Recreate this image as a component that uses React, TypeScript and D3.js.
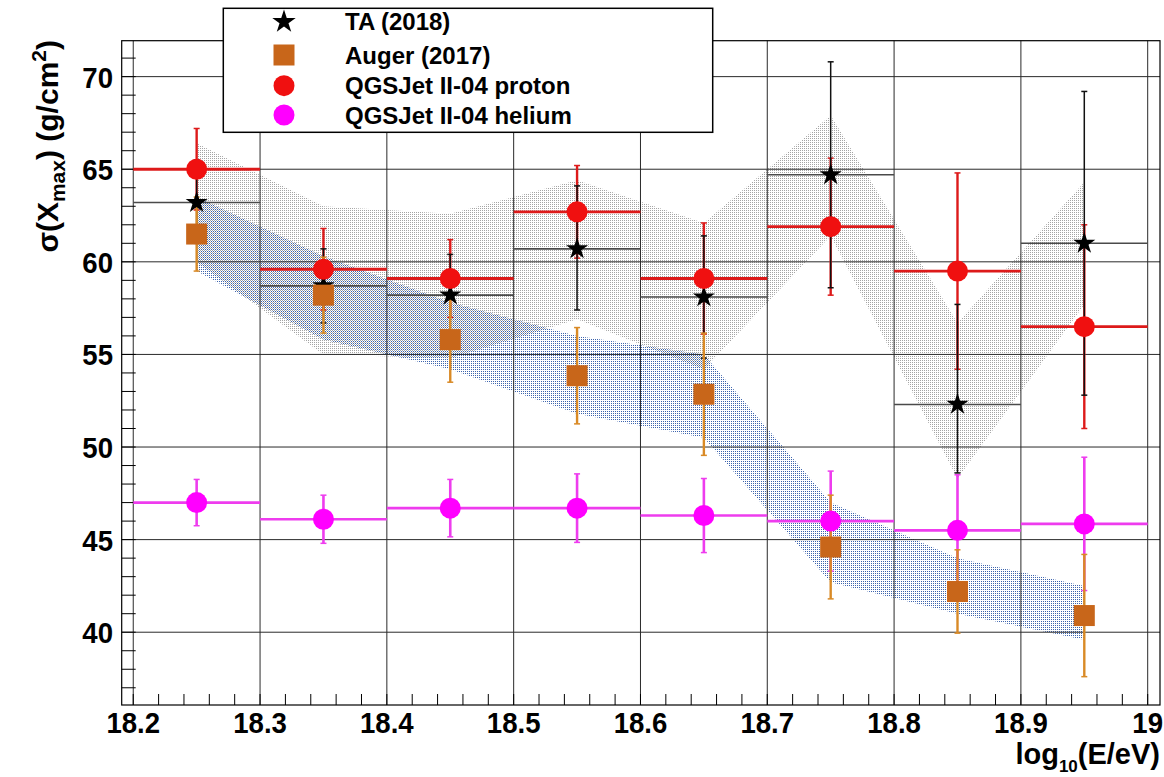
import React from 'react';
import * as d3 from 'd3';

// ---------- data ----------
const binEdges = [18.2, 18.3, 18.4, 18.5, 18.6, 18.7, 18.8, 18.9, 19.0];
const binCenters = [18.25, 18.35, 18.45, 18.55, 18.65, 18.75, 18.85, 18.95];

const taValues = [63.2, 58.7, 58.2, 60.7, 58.1, 64.7, 52.3, 61.0];
const taErrUp = [2.3, 2.0, 2.2, 3.4, 3.3, 6.1, 5.4, 8.2];
const taErrDown = [2.2, 2.0, 2.2, 3.3, 3.3, 6.1, 3.7, 8.2];
const taSysUpper = [66.4, 63.0, 62.6, 64.4, 62.1, 67.9, 56.7, 64.3];
const taSysLower = [60.0, 55.0, 54.8, 56.9, 54.2, 61.4, 48.3, 57.7];

const augerValues = [61.5, 58.2, 55.8, 53.85, 52.85, 44.6, 42.2, 40.9];
const augerErr = [2.0, 2.05, 2.3, 2.6, 3.3, 2.8, 2.25, 3.3];
const augerSysUpper = [63.5, 60.3, 57.8, 56.0, 55.0, 47.0, 44.0, 42.5];
const augerSysLower = [59.5, 55.8, 54.2, 51.8, 50.5, 42.7, 41.0, 39.6];

const protonValues = [65.0, 59.6, 59.1, 62.7, 59.1, 61.9, 59.5, 56.5];
const protonErr = [2.2, 2.2, 2.1, 2.5, 3.0, 3.7, 5.3, 5.5];

const heliumValues = [47.0, 46.1, 46.7, 46.7, 46.3, 46.0, 45.5, 45.85];
const heliumErr = [1.25, 1.3, 1.55, 1.85, 2.0, 2.7, 3.0, 3.6];

const xTickValues = [18.2, 18.3, 18.4, 18.5, 18.6, 18.7, 18.8, 18.9, 19.0];
const xTickLabels = ['18.2', '18.3', '18.4', '18.5', '18.6', '18.7', '18.8', '18.9', '19'];
const yTickValues = [40, 45, 50, 55, 60, 65, 70];
const yTickLabels = ['40', '45', '50', '55', '60', '65', '70'];
const legendLabels = ['TA (2018)', 'Auger (2017)', 'QGSJet II-04 proton', 'QGSJet II-04 helium'];

const xDomain = [18.1909, 19.0097];
const yDomain = [36.07, 71.94];

// ---------- layout ----------
const W = 1164;
const H = 777;
const left = 121.7;
const right = 1160;
const top = 40.7;
const bottom = 705;

const FONT = "'Liberation Sans', Arial, Helvetica, sans-serif";
const RED = '#f01010';
const RED_BAR = '#dd1a1a';
const MAG = '#ff00ff';
const MAG_BAR = '#ee3cee';
const AUG = '#c8661a';
const AUG_BAR = '#d98a26';

export default function App() {
  const x = d3.scaleLinear().domain(xDomain).range([left, right]);
  const y = d3.scaleLinear().domain(yDomain).range([bottom, top]);

  const xMinor = d3.range(0, 41).map((i) => 18.2 + i * 0.02);
  const yMinor = d3.range(37, 72);

  const taArea = d3
    .area<number>()
    .x((_, i) => x(binCenters[i]))
    .y0((_, i) => y(taSysLower[i]))
    .y1((_, i) => y(taSysUpper[i]))(binCenters as any) as string;
  const augArea = d3
    .area<number>()
    .x((_, i) => x(binCenters[i]))
    .y0((_, i) => y(augerSysLower[i]))
    .y1((_, i) => y(augerSysUpper[i]))(binCenters as any) as string;

  const starPath = d3.symbol().type(d3.symbolStar).size(150)() as string;
  const starPathLegend = d3.symbol().type(d3.symbolStar).size(170)() as string;

  const cap = 3;
  const vBar = (cx: number, lo: number, hi: number, color: string, w: number, key: string) => (
    <g key={key} stroke={color} strokeWidth={w}>
      <line x1={cx} x2={cx} y1={y(lo)} y2={y(hi)} />
      <line x1={cx - cap} x2={cx + cap} y1={y(lo)} y2={y(lo)} strokeWidth={1.5} />
      <line x1={cx - cap} x2={cx + cap} y1={y(hi)} y2={y(hi)} strokeWidth={1.5} />
    </g>
  );

  const tickText = (tx: number, ty: number, label: string, anchor: string, key: string) => (
    <text
      key={key}
      transform={`translate(${tx},${ty}) scale(0.92,1)`}
      textAnchor={anchor as any}
      fontFamily={FONT}
      fontWeight="bold"
      fontSize={30}
      fill="#000"
    >
      {label}
    </text>
  );

  return (
    <svg
      width={W}
      height={H}
      style={{ position: 'absolute', left: 0, top: 0, display: 'block', background: '#fff' }}
    >
      <defs>
        <pattern id="dotsGrey" width={2} height={2} patternUnits="userSpaceOnUse">
          <rect x={0} y={0} width={1} height={1} fill="#a4a4a4" />
        </pattern>
        <pattern id="dotsBlue" width={2} height={2} patternUnits="userSpaceOnUse">
          <rect x={1} y={1} width={1} height={1} fill="#3d64ad" />
        </pattern>
      </defs>
      <rect x={0} y={0} width={W} height={H} fill="#fff" />

      {/* systematic bands */}
      <path d={taArea} fill="url(#dotsGrey)" />
      <path d={augArea} fill="url(#dotsBlue)" />

      {/* grid */}
      <g stroke="#2a2a2a" strokeWidth={1}>
        {xTickValues.map((v, i) => (
          <line key={'gx' + i} x1={x(v)} x2={x(v)} y1={top} y2={bottom} />
        ))}
        {yTickValues.map((v, i) => (
          <line key={'gy' + i} x1={left} x2={right} y1={y(v)} y2={y(v)} />
        ))}
      </g>

      {/* frame & ticks */}
      <rect x={left} y={top} width={right - left} height={bottom - top} fill="none" stroke="#000" strokeWidth={1.2} />
      <g stroke="#000" strokeWidth={1}>
        {xMinor.map((v, i) => (
          <line key={'tx' + i} x1={x(v)} x2={x(v)} y1={bottom} y2={bottom - 11} />
        ))}
        {yMinor.map((v, i) => (
          <line key={'ty' + i} x1={left} x2={left + 14} y1={y(v)} y2={y(v)} />
        ))}
      </g>

      {/* horizontal bin-width bars */}
      {taValues.map((v, i) => (
        <line key={'tah' + i} x1={x(binEdges[i])} x2={x(binEdges[i + 1])} y1={y(v)} y2={y(v)} stroke="#4a4a4a" strokeWidth={1.6} />
      ))}
      {protonValues.map((v, i) => (
        <line key={'prh' + i} x1={x(binEdges[i])} x2={x(binEdges[i + 1])} y1={y(v)} y2={y(v)} stroke={RED_BAR} strokeWidth={2.8} />
      ))}
      {heliumValues.map((v, i) => (
        <line key={'heh' + i} x1={x(binEdges[i])} x2={x(binEdges[i + 1])} y1={y(v)} y2={y(v)} stroke={MAG_BAR} strokeWidth={2.6} />
      ))}

      {/* vertical error bars */}
      {heliumValues.map((v, i) => vBar(x(binCenters[i]), v - heliumErr[i], v + heliumErr[i], MAG_BAR, 2.6, 'hev' + i))}
      {protonValues.map((v, i) => vBar(x(binCenters[i]), v - protonErr[i], v + protonErr[i], RED_BAR, 2.4, 'prv' + i))}
      {taValues.map((v, i) => vBar(x(binCenters[i]), v - taErrDown[i], v + taErrUp[i], '#111', 1.5, 'tav' + i))}
      {augerValues.map((v, i) => vBar(x(binCenters[i]), v - augerErr[i], v + augerErr[i], AUG_BAR, 2.4, 'auv' + i))}

      {/* markers */}
      {taValues.map((v, i) => (
        <path key={'tam' + i} d={starPath} transform={`translate(${x(binCenters[i])},${y(v)})`} fill="#000" />
      ))}
      {augerValues.map((v, i) => (
        <rect key={'aum' + i} x={x(binCenters[i]) - 10.5} y={y(v) - 10.5} width={21} height={21} fill={AUG} />
      ))}
      {protonValues.map((v, i) => (
        <circle key={'prm' + i} cx={x(binCenters[i])} cy={y(v)} r={10.5} fill={RED} />
      ))}
      {heliumValues.map((v, i) => (
        <circle key={'hem' + i} cx={x(binCenters[i])} cy={y(v)} r={10.5} fill={MAG} />
      ))}

      {/* tick labels */}
      {xTickValues.map((v, i) => tickText(x(v), 733, xTickLabels[i], 'middle', 'xl' + i))}
      {yTickValues.map((v, i) => tickText(113, y(v) + 11, yTickLabels[i], 'end', 'yl' + i))}

      {/* axis titles */}
      <text x={1160} y={764} textAnchor="end" fontFamily={FONT} fontWeight="bold" fontSize={29} fill="#000">
        log
        <tspan fontSize={17} dy={8}>10</tspan>
        <tspan dy={-8}>(E/eV)</tspan>
      </text>
      <text
        transform="translate(58,40) rotate(-90)"
        textAnchor="end"
        fontFamily={FONT}
        fontWeight="bold"
        fontSize={30}
        fill="#000"
      >
        σ(X
        <tspan fontSize={21} dy={7}>max</tspan>
        <tspan dy={-7}>) (g/cm</tspan>
        <tspan fontSize={21} dy={-12}>2</tspan>
        <tspan dy={12}>)</tspan>
      </text>

      {/* legend */}
      <rect x={223.3} y={8.3} width={489.4} height={124} fill="#fff" stroke="#000" strokeWidth={1.5} />
      <path d={starPathLegend} transform="translate(284,21.7)" fill="#000" />
      <rect x={273.5} y={44.5} width={21} height={21} fill={AUG} />
      <circle cx={284} cy={85.7} r={10.5} fill={RED} />
      <circle cx={284} cy={115} r={10.5} fill={MAG} />
      {legendLabels.map((t, i) => (
        <text
          key={'lg' + i}
          x={345}
          y={[21.7, 55, 85.7, 115][i] + 8.5}
          fontFamily={FONT}
          fontWeight="bold"
          fontSize={24}
          fill="#000"
        >
          {t}
        </text>
      ))}
    </svg>
  );
}
